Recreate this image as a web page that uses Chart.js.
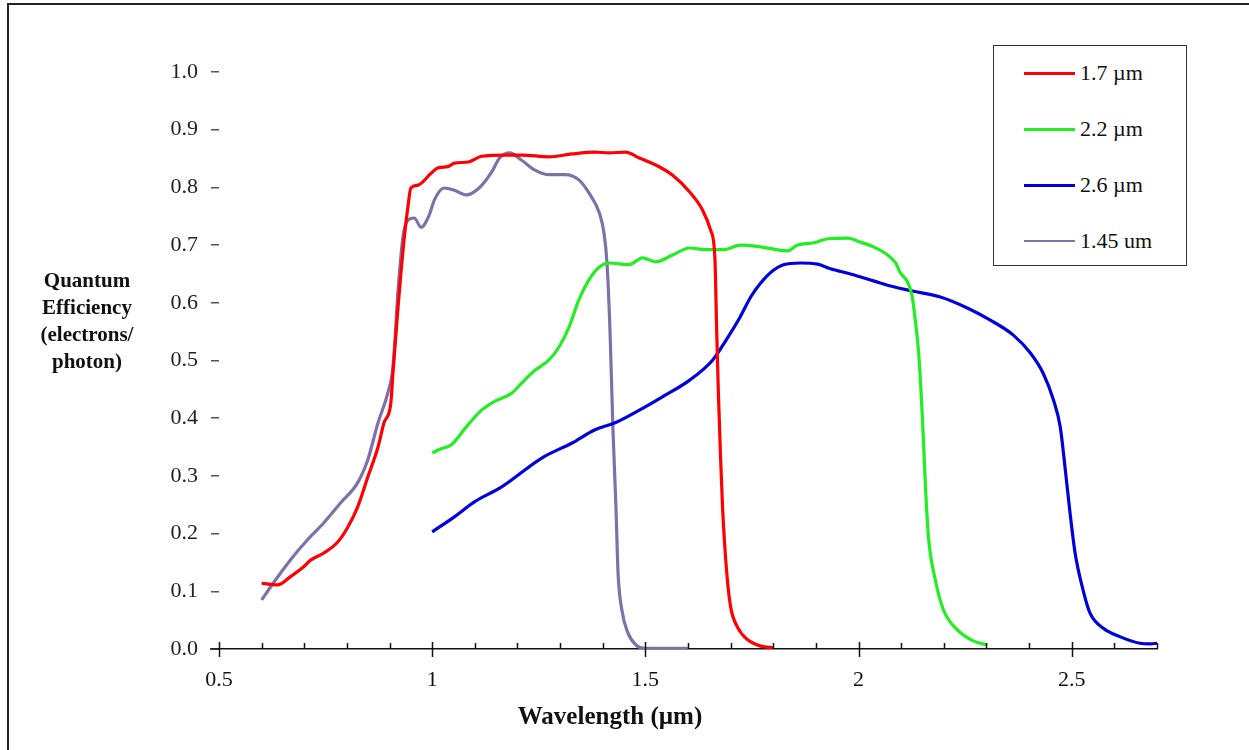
<!DOCTYPE html>
<html>
<head>
<meta charset="utf-8">
<title>Quantum Efficiency</title>
<script src="https://cdn.jsdelivr.net/npm/chart.js@4.4.1/dist/chart.umd.min.js"></script>
<style>
  html, body { margin: 0; padding: 0; background: #fff; }
  #wrap { position: relative; width: 1249px; height: 750px; overflow: hidden; }
  #frame { position: absolute; left: 7px; top: 3px; right: -4px; bottom: -4px;
           border-left: 2px solid #222; border-top: 2px solid #222; }
  #qe { position: absolute; left: 0; top: 0; }
  #legend { position: absolute; left: 993px; top: 45px; width: 192px; height: 219px;
            border: 1.5px solid #333; background: #fff;
            font: 22px "Liberation Serif", serif; color: #111; }
  #legend .row { position: absolute; left: 30px; height: 26px; display: flex; align-items: center; }
  #legend .swatch { width: 51px; height: 3px; margin-right: 5px; }
</style>
</head>
<body>
<div id="wrap">
  <div id="frame"></div>
  <canvas id="qe" width="1249" height="750"></canvas>
  <div id="legend"></div>
</div>
<script>
// wavelength (um) / quantum efficiency pairs for each cutoff
const wl17 = [0.600, 0.637, 0.667, 0.698, 0.715, 0.745, 0.778, 0.802, 0.825, 0.849, 0.873, 0.887, 0.903,
  0.908, 0.920, 0.934, 0.943, 0.950, 0.967, 0.998, 1.014, 1.037, 1.052, 1.085, 1.116, 1.170, 1.210,
  1.274, 1.328, 1.382, 1.415, 1.453, 1.486, 1.524, 1.564, 1.604, 1.634, 1.653, 1.663, 1.667, 1.671,
  1.676, 1.681, 1.691, 1.700, 1.716, 1.740, 1.771, 1.800];
const qe17 = [0.114, 0.111, 0.125, 0.142, 0.154, 0.166, 0.185, 0.211, 0.246, 0.298, 0.350, 0.392, 0.426,
  0.478, 0.593, 0.709, 0.766, 0.799, 0.804, 0.825, 0.834, 0.836, 0.842, 0.844, 0.854, 0.856, 0.856,
  0.853, 0.858, 0.861, 0.860, 0.861, 0.851, 0.839, 0.821, 0.792, 0.761, 0.726, 0.679, 0.560, 0.450,
  0.340, 0.246, 0.131, 0.073, 0.038, 0.016, 0.005, 0.002];

const wl22 = [1.000, 1.021, 1.045, 1.080, 1.116, 1.146, 1.186, 1.210, 1.241, 1.274, 1.297, 1.321, 1.344,
  1.368, 1.392, 1.415, 1.462, 1.493, 1.524, 1.564, 1.604, 1.642, 1.682, 1.724, 1.770, 1.834, 1.857,
  1.895, 1.927, 1.974, 2.005, 2.035, 2.068, 2.087, 2.098, 2.115, 2.126, 2.133, 2.141, 2.150, 2.157,
  2.164, 2.180, 2.199, 2.232, 2.269, 2.302];
const qe22 = [0.340, 0.347, 0.354, 0.385, 0.414, 0.429, 0.443, 0.461, 0.483, 0.501, 0.523, 0.558, 0.605,
  0.640, 0.662, 0.669, 0.666, 0.678, 0.671, 0.683, 0.695, 0.692, 0.692, 0.700, 0.697, 0.690, 0.700,
  0.704, 0.711, 0.712, 0.705, 0.697, 0.683, 0.669, 0.652, 0.636, 0.610, 0.570, 0.513, 0.397, 0.281,
  0.194, 0.120, 0.068, 0.033, 0.014, 0.007];

const wl26 = [1.000, 1.052, 1.099, 1.163, 1.257, 1.328, 1.382, 1.429, 1.486, 1.540, 1.604, 1.658, 1.689,
  1.722, 1.747, 1.770, 1.801, 1.824, 1.864, 1.904, 1.934, 1.981, 2.035, 2.075, 2.129, 2.192, 2.255,
  2.309, 2.363, 2.403, 2.433, 2.457, 2.473, 2.485, 2.496, 2.508, 2.525, 2.543, 2.574, 2.614, 2.660,
  2.684, 2.700];
const qe26 = [0.203, 0.229, 0.255, 0.281, 0.331, 0.357, 0.380, 0.392, 0.414, 0.437, 0.466, 0.501, 0.535,
  0.575, 0.610, 0.634, 0.657, 0.666, 0.669, 0.667, 0.659, 0.650, 0.638, 0.629, 0.620, 0.610, 0.591,
  0.570, 0.544, 0.513, 0.478, 0.432, 0.385, 0.310, 0.236, 0.166, 0.107, 0.062, 0.036, 0.021, 0.010,
  0.009, 0.010];

const wl145 = [0.600, 0.627, 0.667, 0.707, 0.745, 0.785, 0.825, 0.849, 0.873, 0.896, 0.908, 0.920, 0.932,
  0.943, 0.958, 0.974, 0.993, 1.005, 1.028, 1.052, 1.080, 1.110, 1.139, 1.158, 1.182, 1.210, 1.241,
  1.274, 1.312, 1.344, 1.368, 1.392, 1.403, 1.410, 1.417, 1.424, 1.431, 1.436, 1.445, 1.459, 1.478,
  1.500, 1.600];
const qe145 = [0.085, 0.114, 0.154, 0.189, 0.218, 0.253, 0.288, 0.328, 0.392, 0.444, 0.489, 0.622, 0.717,
  0.743, 0.747, 0.731, 0.752, 0.778, 0.799, 0.795, 0.787, 0.799, 0.826, 0.851, 0.860, 0.847, 0.830,
  0.822, 0.822, 0.813, 0.790, 0.756, 0.721, 0.669, 0.553, 0.380, 0.246, 0.131, 0.067, 0.028, 0.007,
  0.001, 0.001];

const seriesLabels = ['1.7 \u00b5m', '2.2 \u00b5m', '2.6 \u00b5m', '1.45 um'];
const seriesColors = ['#ff0000', '#22ee22', '#0000dd', '#8070a8'];
const xTickValues = [0.5, 1, 1.5, 2, 2.5];

const xTitle = 'Wavelength (\u00b5m)';
const yTitle = ['Quantum', 'Efficiency', '(electrons/', 'photon)'];

function toPoints(xs, ys) {
  return xs.map((x, i) => ({ x: x, y: ys[i] }));
}

const series = [[wl17, qe17], [wl22, qe22], [wl26, qe26], [wl145, qe145]];

const datasets = series.map((s, i) => ({
  label: seriesLabels[i],
  data: toPoints(s[0], s[1]),
  borderColor: seriesColors[i],
  backgroundColor: seriesColors[i],
  borderWidth: 3.2,
  pointRadius: 0,
  cubicInterpolationMode: 'monotone',
  fill: false
}));

const serif = '"Liberation Serif", "Times New Roman", serif';

// x axis: minor ticks every 0.1 pointing up, major ticks crossing the axis
const xAxisTicks = {
  id: 'xAxisTicks',
  afterDraw(chart) {
    const ctx = chart.ctx;
    const xs = chart.scales.x;
    const y0 = chart.chartArea.bottom;
    ctx.save();
    ctx.strokeStyle = '#111';
    ctx.lineWidth = 1.5;
    ctx.beginPath();
    ctx.moveTo(chart.chartArea.left - 9, y0);
    ctx.lineTo(chart.chartArea.left, y0);
    ctx.stroke();
    for (let i = 5; i <= 27; i++) {
      const px = Math.round(xs.getPixelForValue(i / 10)) + 0.5;
      const major = i % 5 === 0;
      ctx.beginPath();
      ctx.moveTo(px, y0 - (major ? 7 : 6));
      ctx.lineTo(px, y0 + (major ? 8 : 0));
      ctx.stroke();
    }
    ctx.restore();
  }
};

const axisTitles = {
  id: 'axisTitles',
  afterDraw(chart) {
    const ctx = chart.ctx;
    ctx.save();
    ctx.fillStyle = '#111';
    ctx.textAlign = 'center';
    ctx.textBaseline = 'middle';
    ctx.font = 'bold 25px ' + serif;
    ctx.fillText(xTitle, 610, 718);
    ctx.font = 'bold 21px ' + serif;
    yTitle.forEach((line, i) => ctx.fillText(line, 87, 282 + i * 27));
    ctx.restore();
  }
};

const chart = new Chart(document.getElementById('qe'), {
  type: 'line',
  data: { datasets: datasets },
  options: {
    responsive: false,
    animation: false,
    devicePixelRatio: 1,
    layout: { padding: { top: 72, right: 92, left: 0, bottom: 0 } },
    plugins: {
      legend: { display: false },
      tooltip: { enabled: false }
    },
    scales: {
      x: {
        type: 'linear',
        min: 0.5,
        max: 2.7,
        afterBuildTicks(scale) {
          scale.ticks = xTickValues.map(v => ({ value: v }));
        },
        afterFit(scale) { scale.height = 101; },
        grid: { display: false, drawTicks: false },
        border: { display: true, color: '#111', width: 1.5 },
        ticks: {
          padding: 18,
          color: '#111',
          font: { family: serif, size: 22 },
          callback: v => String(v)
        }
      },
      y: {
        min: 0,
        max: 1,
        afterFit(scale) { scale.width = 219; },
        grid: { drawOnChartArea: false, drawTicks: true, tickLength: 8, color: '#555', lineWidth: 1.5 },
        border: { display: false },
        ticks: {
          stepSize: 0.1,
          padding: 13,
          color: '#222',
          font: { family: serif, size: 22 },
          callback: v => v.toFixed(1)
        }
      }
    }
  },
  plugins: [xAxisTicks, axisTitles]
});

// legend box built from the datasets
const legendEl = document.getElementById('legend');
chart.data.datasets.forEach((ds, i) => {
  const row = document.createElement('div');
  row.className = 'row';
  row.style.top = (14 + i * 56) + 'px';
  const sw = document.createElement('span');
  sw.className = 'swatch';
  sw.style.background = ds.borderColor;
  if (i === 3) sw.style.height = '2px';
  const txt = document.createElement('span');
  txt.textContent = ds.label;
  row.appendChild(sw);
  row.appendChild(txt);
  legendEl.appendChild(row);
});
</script>
</body>
</html>
